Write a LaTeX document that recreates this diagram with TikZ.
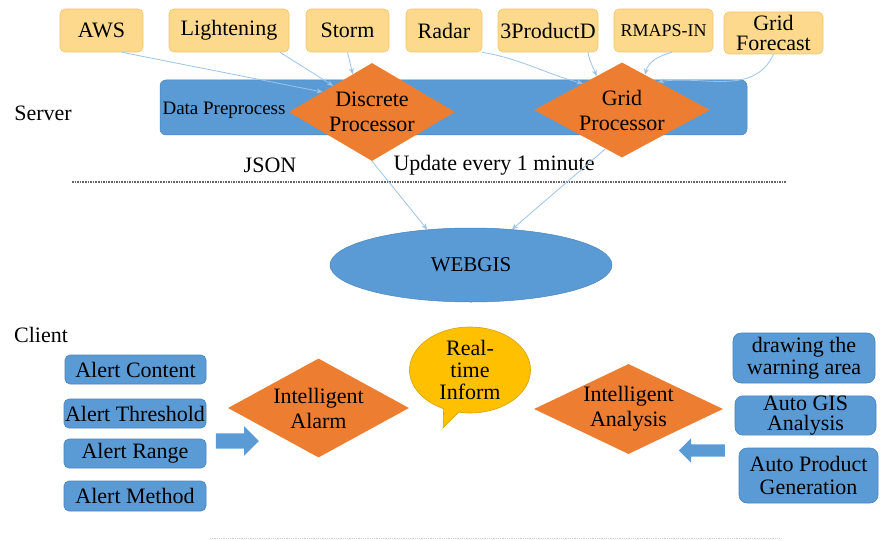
\documentclass[tikz,border=0pt]{standalone}
\usepackage{fontspec}
\setmainfont{Liberation Serif}
\usetikzlibrary{shapes.geometric,shapes.callouts,shapes.arrows,arrows.meta,calc}
\definecolor{srcfill}{HTML}{FDD98E}
\definecolor{srcedge}{HTML}{F5C46A}
\definecolor{barblue}{HTML}{5B9BD5}
\definecolor{edgeblue}{HTML}{4A84BC}
\definecolor{procorange}{HTML}{ED7D31}
\definecolor{linkblue}{HTML}{9DC3E6}
\definecolor{bubblefill}{HTML}{FFC000}
\definecolor{bubbleedge}{HTML}{D9A300}
\tikzset{
  lbl/.style={font=\fontsize{22}{22}\selectfont, text=black},
  srcbox/.style={lbl, rectangle, rounded corners=5pt, fill=srcfill, draw=srcedge,
    line width=0.6pt, inner sep=0pt, minimum height=43pt, align=center},
  proc/.style={diamond, fill=procorange, draw=none, inner sep=-6pt, align=center,
    font=\fontsize{22}{25}\selectfont},
  bluebox/.style={rectangle, rounded corners=5pt, fill=barblue, draw=edgeblue,
    line width=0.6pt, inner sep=0pt, align=center},
  feed/.style={draw=linkblue, line width=0.8pt, -{Stealth[length=6pt,width=5pt]}},
  bigarrow/.style={single arrow, fill=barblue, draw=none, inner xsep=0pt,
    single arrow head indent=0pt},
  plain/.style={lbl, inner sep=0pt},
}
\begin{document}
\begin{tikzpicture}[x=1pt,y=-1pt]
\useasboundingbox (0,0) rectangle (882,540);

% ---------------- server side ----------------
\node[rectangle, rounded corners=6pt, fill=barblue, draw=edgeblue, line width=0.5pt,
  minimum width=587pt, minimum height=55pt, inner sep=0pt] (bar) at (453.5,107.5) {};
\node[inner sep=0pt, font=\fontsize{19}{19}\selectfont] (prep) at (224,110) {Data Preprocess};

\node[proc, aspect=1.69, minimum width=166pt, minimum height=98pt] (disc) at (372,112) {Discrete\\Processor};
\node[proc, aspect=1.85, minimum width=176pt, minimum height=95pt] (grid) at (622,110) {Grid\\Processor};

\node[srcbox, minimum width=83pt]  (aws)    at (101.5,30.5) {AWS};
\node[srcbox, minimum width=120pt] (light)  at (229,30.5)   {Lightening};
\node[srcbox, minimum width=83pt]  (storm)  at (347.5,30.5) {Storm};
\node[srcbox, minimum width=76pt]  (radar)  at (444,30.5)   {Radar};
\node[srcbox, minimum width=100pt] (prod)   at (548,30.5)   {3ProductD};
\node[srcbox, minimum width=99pt, font=\fontsize{18}{18}\selectfont] (rmaps) at (663.5,30.5) {RMAPS-IN};
\node[srcbox, minimum width=99pt, minimum height=42pt, font=\fontsize{22}{20}\selectfont] (gfc) at (773.5,33) {Grid\\Forecast};

% feeds into the processors
\draw[feed] ([xshift=20.5pt]aws.south) -- (disc.158);
\draw[feed] ([xshift=51pt]light.south) -- (disc.146);
\draw[feed] (storm.south) -- (disc.117);
\draw[feed] (radar.south east) to[out=-10,in=165] (grid.146);
\draw[feed] ([xshift=40pt]prod.south) to[out=-80,in=110] (grid.127);
\draw[feed] ([xshift=8.5pt]rmaps.south) to[out=-165,in=75] (grid.57);
\draw[feed] (gfc.south) to[out=-115,in=8] (grid.38);

\node[plain] (server) at (43,113) {Server};
\node[plain] (json) at (270,165) {JSON};
\node[plain] (update) at (494,165) {Update every 1 minute};

% server / client separator
\coordinate (sepL) at (72,182);
\coordinate (sepR) at (786,182);
\draw[densely dotted, line width=1.6pt, black!60] (sepL) -- (sepR);

% ---------------- web gis ----------------
\node[ellipse, fill=barblue, draw=edgeblue, line width=0.5pt, minimum width=282pt,
  minimum height=74pt, inner sep=0pt, font=\fontsize{21}{21}\selectfont] (web) at (471,265) {WEBGIS};
\draw[feed] (disc.south) -- (web.141);
\draw[feed] (grid.-113) -- (web.41);

% ---------------- client side ----------------
\node[plain] (client) at (41,335) {Client};

\node[bluebox, lbl, minimum width=141pt, minimum height=29pt] (acont) at (135.5,369.5) {Alert Content};
\node[bluebox, lbl, minimum width=142pt, minimum height=29pt] (athr)  at (135,413.5) {Alert Threshold};
\node[bluebox, lbl, minimum width=142pt, minimum height=29pt] (arng)  at (135,453.5) {Alert Range};
\node[bluebox, lbl, minimum width=142pt, minimum height=30pt] (ameth) at (135,496) {Alert Method};

\node[bigarrow, inner ysep=7.5pt, minimum height=43pt, single arrow head extend=7pt] (toalarm) at (233.5,441) {};

\node[proc, aspect=1.83, minimum width=181pt, minimum height=99pt] (alarm) at (318.5,408) {Intelligent\\Alarm};

\node[ellipse callout, fill=bubblefill, draw=bubbleedge, line width=0.6pt, inner sep=-8pt,
  minimum width=121pt, minimum height=86pt, callout absolute pointer={(443,428)},
  align=center, font=\fontsize{22}{22}\selectfont] (inform) at (470,370) {Real-\\time\\Inform};

\node[proc, aspect=2.1, minimum width=189pt, minimum height=90pt] (analysis) at (628.5,409) {Intelligent\\Analysis};

\node[bigarrow, shape border rotate=180, inner ysep=6pt, minimum height=46pt,
  single arrow head extend=6pt] (toanalysis) at (705,450.5) {};

\node[bluebox, rounded corners=8pt, minimum width=142pt, minimum height=50pt,
  font=\fontsize{22}{22}\selectfont] (draw) at (804,358) {drawing the\\warning area};
\node[bluebox, rounded corners=8pt, minimum width=141pt, minimum height=39pt,
  font=\fontsize{22}{20}\selectfont] (gis) at (805.5,415.5) {Auto GIS\\Analysis};
\node[bluebox, rounded corners=8pt, minimum width=139pt, minimum height=55pt,
  font=\fontsize{22}{23}\selectfont] (prodgen) at (808.5,475.5) {Auto Product\\Generation};

% faint rule along the bottom
\coordinate (botL) at (210,538);
\coordinate (botR) at (780,538);
\draw[densely dotted, line width=0.8pt, black!20] (botL) -- (botR);
\end{tikzpicture}
\end{document}
